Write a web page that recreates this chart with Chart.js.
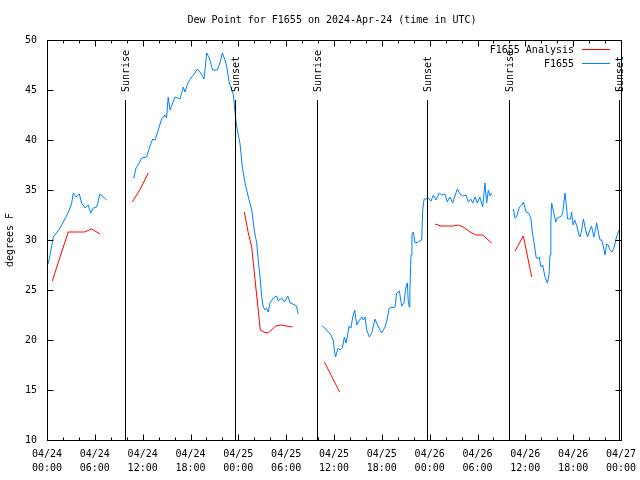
<!DOCTYPE html>
<html>
<head>
<meta charset="utf-8">
<script src="https://cdn.jsdelivr.net/npm/chart.js@4"></script>
<style>
  html, body { margin: 0; padding: 0; background: #fff; }
</style>
</head>
<body>
<canvas id="myChart" width="640" height="480"></canvas>
<script>
'use strict';

// hours since 04/24 00:00 UTC, null = gap in the line
const blueHours = [
  0.13, 0.38, 0.79, 1.2, 1.63, 2.04, 2.38, 2.8, 3.1, 3.3, 3.64, 4.05, 4.35, 4.77, 5.18, 5.48, 5.8, 6.23, 6.65, 7.06, 7.49, null,
  10.75, 10.9, 11.16, 11.5, 11.88, 12.5, 12.83, 13.26, 13.55, 13.96, 14.38, 14.8, 15.0, 15.2, 15.43, 15.77, 16.06, 16.68, 17.1, 17.3,
  17.72, 18.15, 18.57, 18.85, 19.28, 19.7, 20.03, 20.36, 20.78, 21.36, 21.7, 21.99, 22.33, 22.55, 22.87, 23.17, 23.38, 23.58, 23.8,
  24.2, 24.5, 24.84, 25.25, 25.68, 26.0, 26.3, 26.5, 26.72, 26.93, 27.13, 27.34, 27.55, 27.76, 27.97, 28.4, 28.8, 29.0, 29.44, 29.77,
  30.2, 30.5, 31.1, 31.3, 31.5, null,
  34.5, 34.85, 35.3, 35.6, 35.9, 36.04, 36.2, 36.5, 36.75, 37.05, 37.3, 37.5, 37.66, 37.9, 38.12, 38.35, 38.6, 38.85, 39.2, 39.5,
  39.7, 39.9, 40.1, 40.44, 40.74, 41.14, 41.35, 41.77, 41.98, 42.4, 42.68, 42.93, 43.65, 43.86, 44.2, 44.37, 44.5, 44.78, 45.0, 45.2,
  45.3, 45.44, 45.52, 45.66, 45.78, 45.95, 46.16, 46.57, 47.0, 47.13, 47.3, 47.6, 47.8, 48.17, 48.46, 48.8, 49.2, 49.5, 49.92, 50.2,
  50.55, 50.88, 51.17, 51.47, 51.8, 52.2, 52.56, 52.85, 53.15, 53.4, 53.7, 53.98, 54.3, 54.65, 54.94, 55.15, 55.36, 55.57, 55.78, null,
  58.5, 58.7, 58.9, 59.25, 59.55, 59.75, 60.1, 60.4, 60.7, 60.87, 61.1, 61.35, 61.5, 61.75, 61.96, 62.17, 62.47, 62.76, 62.97, 63.1,
  63.2, 63.3, 63.5, 63.81, 64.0, 64.26, 64.55, 64.7, 64.98, 65.2, 65.3, 65.67, 65.8, 66.0, 66.2, 66.5, 66.72, 66.86, 67.07, 67.28,
  67.49, 67.8, 68.1, 68.3, 68.6, 68.95, 69.15, 69.37, 69.58, 69.8, 70.0, 70.2, 70.4, 70.6, 70.9, 71.15, 71.4, 71.66, 71.8
];
const blueDew = [
  27.6, 28.5, 30.3, 30.7, 31.2, 31.8, 32.3, 33.0, 33.7, 34.7, 34.3, 34.6, 33.7, 33.2, 33.5, 32.7, 33.2, 33.3, 34.6, 34.3, 34.0, null,
  36.3, 36.2, 37.2, 37.6, 38.2, 38.3, 39.2, 40.1, 40.0, 41.0, 42.1, 42.5, 42.2, 44.3, 43.0, 43.7, 44.3, 44.1, 45.3, 44.8,
  45.8, 46.3, 46.7, 47.1, 46.7, 46.1, 48.7, 48.2, 47.0, 47.0, 47.7, 48.7, 48.0, 47.3, 45.7, 45.0, 44.5, 42.8, 41.3,
  39.7, 37.3, 35.7, 34.3, 33.0, 31.0, 29.7, 28.0, 26.3, 24.3, 23.3, 23.0, 23.2, 22.8, 23.7, 24.2, 24.4, 23.9, 24.2, 23.8,
  24.4, 23.7, 23.5, 23.4, 22.6, null,
  21.4, 21.2, 20.8, 20.5, 20.0, 19.0, 18.3, 19.2, 19.0, 19.2, 20.3, 19.7, 20.3, 21.4, 21.2, 22.3, 23.0, 21.5, 22.0, 22.3,
  22.0, 22.3, 21.0, 20.3, 20.7, 22.1, 21.7, 21.0, 20.7, 21.3, 22.1, 23.2, 23.3, 24.7, 24.9, 24.0, 23.4, 23.7, 25.2, 25.7,
  24.0, 23.3, 25.0, 28.5, 30.5, 30.8, 29.7, 29.8, 30.0, 33.0, 34.1, 34.1, 34.2, 33.9, 34.5, 34.0, 34.7, 34.5, 34.6, 33.8,
  34.3, 33.7, 34.4, 35.1, 34.6, 34.4, 34.5, 33.8, 34.1, 33.7, 34.3, 33.7, 34.3, 33.3, 35.7, 33.7, 35.0, 34.4, 34.7, null,
  33.1, 32.2, 32.3, 33.3, 33.5, 33.8, 32.8, 32.7, 32.2, 30.8, 29.7, 28.3, 28.1, 28.3, 27.3, 27.5, 26.3, 25.7, 26.5, 28.5,
  31.8, 33.7, 33.0, 31.8, 32.2, 32.3, 32.4, 32.8, 34.7, 33.0, 32.1, 32.1, 32.8, 31.5, 32.0, 31.3, 30.5, 30.3, 31.0, 32.1,
  31.3, 30.3, 31.0, 31.4, 30.3, 31.7, 30.8, 30.0, 30.0, 29.3, 28.5, 29.6, 29.5, 29.0, 28.8, 29.3, 30.2, 30.8, 31.0
];

const redHours = [
  0.67, 1.67, 2.67, 3.7, 4.7, 5.6, 6.65, null,
  10.7, 11.7, 12.7, null,
  24.75, 25.25, 25.68, 26.1, 26.5, 26.75, 27.2, 27.75, 28.7, 29.4, 30.0, 30.8, null,
  34.8, 35.75, 36.7, null,
  48.67, 49.42, 50.97, 51.6, 52.2, 53.06, 53.8, 54.65, 55.78, null,
  58.7, 59.75, 60.8
];
const redDew = [
  25.9, 28.4, 30.8, 30.8, 30.8, 31.1, 30.6, null,
  33.8, 35.1, 36.7, null,
  32.8, 30.7, 29.3, 26.0, 23.0, 21.0, 20.8, 20.7, 21.4, 21.5, 21.4, 21.3, null,
  17.8, 16.3, 14.8, null,
  31.6, 31.4, 31.4, 31.5, 31.3, 30.8, 30.5, 30.5, 29.7, null,
  28.9, 30.4, 26.3
];

const sunHours = [9.78, 23.58, 33.87, 47.67, 57.95, 71.75];
const sunLabels = ['Sunrise', 'Sunset', 'Sunrise', 'Sunset', 'Sunrise', 'Sunset'];

const yTicks = [10, 15, 20, 25, 30, 35, 40, 45, 50];
const legendNames = ['F1655 Analysis', 'F1655'];
const chartTitle = 'Dew Point for F1655 on 2024-Apr-24 (time in UTC)';

const monoFont = 'DejaVu Sans Mono';
const redColor = '#ff0000';
const blueColor = '#0080ff';

function toPoints(hours, vals){
  let pts = [];
  for(let i = 0; i < hours.length; i++){
    if(hours[i] === null){
      pts.push({x: hours[i - 1] + 0.01, y: null});
    }else{
      pts.push({x: hours[i], y: vals[i]});
    }
  }
  return pts;
}

function timeLabel(h){
  let day = 24 + Math.floor(h / 24);
  let hr = h % 24;
  return ['04/' + day, (hr < 10 ? '0' : '') + hr + ':00'];
}

const framePlugin = {
  id: 'frame',
  afterDraw(chart){
    const c = chart.ctx;
    const a = chart.chartArea;
    const xs = chart.scales.x;
    const ys = chart.scales.y;
    const L = Math.round(a.left) + 0.5;
    const R = Math.round(a.right) + 0.5;
    const T = Math.round(a.top) + 0.5;
    const B = Math.round(a.bottom) + 0.5;

    c.save();
    c.strokeStyle = '#000';
    c.lineWidth = 1;

    // ticks on all four sides, pointing in
    c.beginPath();
    for(let h = 0; h <= 72; h += 2){
      let px = Math.round(xs.getPixelForValue(h)) + 0.5;
      let len = h % 6 === 0 ? 6 : 3;
      c.moveTo(px, B); c.lineTo(px, B - len);
      c.moveTo(px, T); c.lineTo(px, T + len);
    }
    for(let i = 0; i < yTicks.length; i++){
      let py = Math.round(ys.getPixelForValue(yTicks[i])) + 0.5;
      c.moveTo(L, py); c.lineTo(L + 6, py);
      c.moveTo(R, py); c.lineTo(R - 6, py);
    }
    c.stroke();

    // sunrise / sunset markers
    c.font = '10px "' + monoFont + '"';
    c.fillStyle = '#000';
    for(let i = 0; i < sunHours.length; i++){
      let px = Math.round(xs.getPixelForValue(sunHours[i])) + 0.5;
      c.beginPath();
      c.moveTo(px, 100);
      c.lineTo(px, B);
      c.stroke();
      c.save();
      c.translate(px + 1, 92);
      c.rotate(-Math.PI / 2);
      c.textAlign = 'left';
      c.textBaseline = 'middle';
      c.fillText(sunLabels[i], 0, 0);
      c.restore();
    }

    // frame
    c.strokeRect(L, T, R - L, B - T);

    // legend
    const colors = [redColor, blueColor];
    c.textAlign = 'right';
    c.textBaseline = 'middle';
    for(let i = 0; i < legendNames.length; i++){
      let ly = 50 + i * 14;
      c.fillStyle = '#000';
      c.fillText(legendNames[i], 574, ly);
      c.strokeStyle = colors[i];
      c.beginPath();
      c.moveTo(582, ly - 0.5);
      c.lineTo(610, ly - 0.5);
      c.stroke();
    }

    // title
    c.fillStyle = '#000';
    c.textAlign = 'center';
    c.fillText(chartTitle, 332, 20);
    c.restore();
  }
};

const tickFont = {family: monoFont, size: 10, lineHeight: 1.4};

let ctx = document.getElementById('myChart').getContext('2d');
let myChart = new Chart(ctx, {
  type: 'line',
  data: {
    datasets: [{
      label: legendNames[1],
      data: toPoints(blueHours, blueDew),
      borderColor: blueColor,
      borderWidth: 1,
      pointRadius: 0,
      tension: 0,
      spanGaps: false
    },{
      label: legendNames[0],
      data: toPoints(redHours, redDew),
      borderColor: redColor,
      borderWidth: 1,
      pointRadius: 0,
      tension: 0,
      spanGaps: false
    }]
  },
  options: {
    responsive: false,
    animation: false,
    layout: {padding: {top: 40, right: 19, left: 0, bottom: 0}},
    plugins: {
      legend: {display: false},
      tooltip: {enabled: false}
    },
    scales: {
      x: {
        type: 'linear',
        min: 0,
        max: 72,
        grid: {display: false, drawTicks: false},
        border: {display: false},
        ticks: {
          stepSize: 6,
          autoSkip: false,
          maxRotation: 0,
          padding: 7,
          color: '#000',
          font: tickFont,
          callback: (v) => timeLabel(v)
        },
        afterFit(s){
          s.height = 40;
          s.paddingLeft = 0;
          s.paddingRight = 0;
        }
      },
      y: {
        min: 10,
        max: 50,
        grid: {display: false, drawTicks: false},
        border: {display: false},
        ticks: {
          stepSize: 5,
          padding: 10,
          color: '#000',
          font: tickFont
        },
        title: {
          display: true,
          text: 'degrees F',
          color: '#000',
          font: {family: monoFont, size: 10},
          padding: {top: 4, bottom: 0}
        },
        afterFit(s){
          s.width = 47;
          s.paddingTop = 0;
          s.paddingBottom = 0;
        }
      }
    }
  },
  plugins: [framePlugin]
});
</script>
</body>
</html>
